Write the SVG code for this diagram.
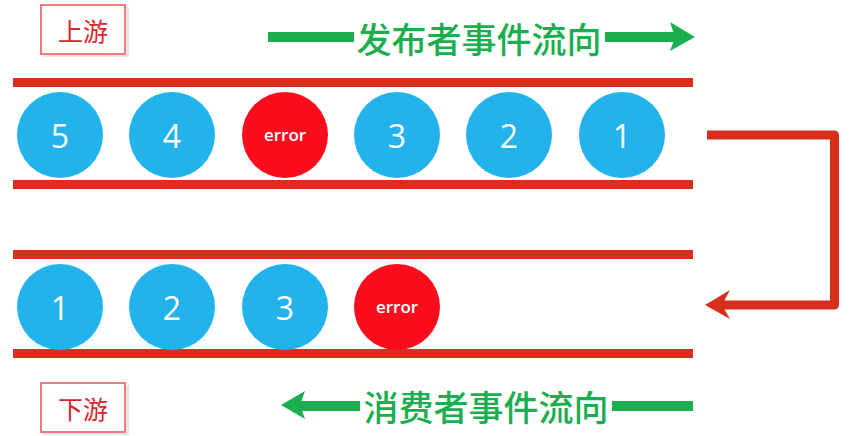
<svg xmlns="http://www.w3.org/2000/svg" width="856" height="436" viewBox="0 0 856 436">
<defs>
<style>
.bar{fill:#D72E1E}
.ball{fill:#22B2EC}
.err{fill:#FC0D1E}
.num{fill:#fff;font-family:"Open Sans","DejaVu Sans",sans-serif;font-size:32px;text-anchor:middle;dominant-baseline:central}
.etx{fill:#fff;font-family:"Open Sans","DejaVu Sans",sans-serif;font-size:17px;font-weight:600;text-anchor:middle;dominant-baseline:central}
.tag{fill:#fff;stroke:#F27A7E;stroke-width:2}
.shadow{fill:#E6E6E6}
.tagtx{fill:#D9262C;font-family:"Noto Sans CJK SC",sans-serif;font-size:25px;text-anchor:middle;dominant-baseline:central}
.flow{fill:#1BAE4F;font-family:"Noto Sans CJK SC",sans-serif;font-size:35px;font-weight:500;text-anchor:middle;dominant-baseline:central}
.gl{stroke:#1BAE4F;stroke-width:10;fill:none}
.gh{fill:#1BAE4F}
.rl{stroke:#D72E1E;stroke-width:9;fill:none;stroke-linejoin:round}
</style>
</defs>
<g id="lanes">
<rect class="bar" x="13" y="78" width="680" height="9"/>
<rect class="bar" x="13" y="180" width="680" height="9"/>
<rect class="bar" x="13" y="250" width="680" height="9"/>
<rect class="bar" x="13" y="349" width="680" height="9"/>
</g>
<g id="label-upstream">
<rect class="shadow" x="43" y="7" width="86" height="50"/>
<rect class="tag" x="41" y="5" width="84" height="49"/>
<text class="tagtx" x="83" y="30">上游</text>
</g>
<g id="label-downstream">
<rect class="shadow" x="43" y="385" width="86" height="50"/>
<rect class="tag" x="41" y="383" width="84" height="49"/>
<text class="tagtx" x="83" y="408">下游</text>
</g>
<g id="top-5"><circle class="ball" cx="60" cy="135" r="43"/><text class="num" x="60" y="135">5</text></g>
<g id="top-4"><circle class="ball" cx="172" cy="135" r="43"/><text class="num" x="172" y="135">4</text></g>
<g id="top-error"><circle class="err" cx="285" cy="135" r="43"/><text class="etx" x="285" y="134">error</text></g>
<g id="top-3"><circle class="ball" cx="397" cy="135" r="43"/><text class="num" x="397" y="135">3</text></g>
<g id="top-2"><circle class="ball" cx="509" cy="135" r="43"/><text class="num" x="509" y="135">2</text></g>
<g id="top-1"><circle class="ball" cx="622" cy="135" r="43"/><text class="num" x="622" y="135">1</text></g>
<g id="bottom-1"><circle class="ball" cx="60" cy="307" r="43"/><text class="num" x="60" y="307">1</text></g>
<g id="bottom-2"><circle class="ball" cx="172" cy="307" r="43"/><text class="num" x="172" y="307">2</text></g>
<g id="bottom-3"><circle class="ball" cx="285" cy="307" r="43"/><text class="num" x="285" y="307">3</text></g>
<g id="bottom-error"><circle class="err" cx="397" cy="307" r="43"/><text class="etx" x="397" y="306">error</text></g>
<g id="publisher-flow">
<text class="flow" x="479" y="37">发布者事件流向</text>
</g>
<g id="consumer-flow">
<text class="flow" x="486" y="405">消费者事件流向</text>
</g>
<g id="connectors">
<line class="gl" x1="268" y1="37" x2="354" y2="37"/>
<line class="gl" x1="605" y1="37" x2="676" y2="37"/>
<polygon class="gh" points="695,37 670,22 675,37 670,51"/>
<line class="gl" x1="300" y1="406" x2="360" y2="406"/>
<line class="gl" x1="612" y1="406" x2="693" y2="406"/>
<polygon class="gh" points="281,405 305,391 300,405 305,419"/>
<path class="rl" d="M707,135 H834.5 V305 H722"/>
<polygon fill="#D72E1E" points="705,305 730,290 722,305 730,319"/>
</g>
</svg>
